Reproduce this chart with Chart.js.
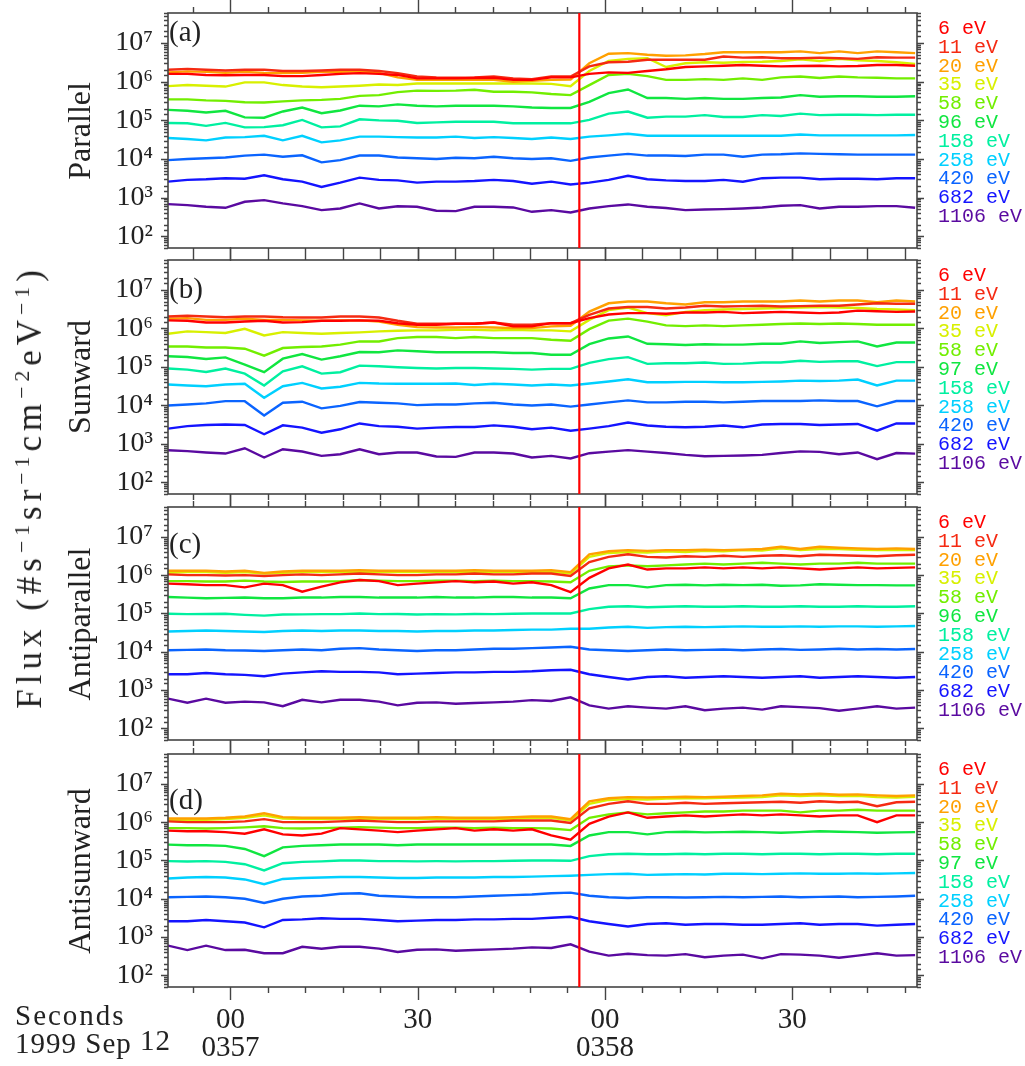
<!DOCTYPE html>
<html>
<head>
<meta charset="utf-8">
<title>Electron flux, 1999 Sep 12</title>
<script src="https://cdn.jsdelivr.net/npm/chart.js@4.4.1/dist/chart.umd.min.js"></script>
<style>
  html, body { margin: 0; padding: 0; background: #fff; }
  body { position: relative; width: 1025px; height: 1066px; overflow: hidden;
         font-family: "Liberation Serif", serif; color: #222; }
  .box { position: absolute; left: 0; width: 1025px; }
  .txt { position: absolute; white-space: nowrap; }
  .ytitle { position: absolute; white-space: nowrap; font-size: 32px;
            transform: translate(-50%, -50%) rotate(-90deg); }
  .tag { position: absolute; left: 169px; font-size: 29px; transform: translateY(-50%); }
  .legend { position: absolute; left: 938px; font-family: "Liberation Mono", monospace;
            font-size: 20px; line-height: 18.8px; white-space: pre; }
  sup { font-size: 0.62em; vertical-align: 0.55em; line-height: 0; }
</style>
</head>
<body>
<div class="box" id="boxA" style="top:0px;height:262px"><canvas id="chartA"></canvas></div>
<div class="box" id="boxB" style="top:246px;height:262px"><canvas id="chartB"></canvas></div>
<div class="box" id="boxC" style="top:493px;height:261px"><canvas id="chartC"></canvas></div>
<div class="box" id="boxD" style="top:740px;height:326px"><canvas id="chartD"></canvas></div>

<div class="ytitle" style="left:30px;top:487px;font-size:35px;letter-spacing:5px">Flux (#s<sup>&minus;1</sup>sr<sup>&minus;1</sup>cm<sup>&minus;2</sup>eV<sup>&minus;1</sup>)</div>
<div class="txt" style="left:15px;top:999px;font-size:29px;letter-spacing:2px">Seconds</div>
<div class="txt" style="left:15px;top:1027px;font-size:29px;letter-spacing:1px">1999 Sep <span style="position:relative;top:-3px">12</span></div>
<div id="overlay"></div>

<script>
// seconds after 03:57:00 UT, one sample per spin
const times = [-10.0, -6.9, -3.9, -0.8, 2.3, 5.4, 8.4, 11.5, 14.6, 17.6,
  20.7, 23.8, 26.8, 29.9, 33.0, 36.1, 39.1, 42.2, 45.3, 48.3,
  51.4, 54.5, 57.5, 60.6, 63.7, 66.8, 69.8, 72.9, 76.0, 79.0,
  82.1, 85.2, 88.2, 91.3, 94.4, 97.5, 100.5, 103.6, 106.7, 109.7];

const eventTime = 55.9; // red line

const energyParallel = ['6 eV', '11 eV', '20 eV', '35 eV', '58 eV', '96 eV', '158 eV', '258 eV', '420 eV', '682 eV', '1106 eV'];
const energySunward = ['6 eV', '11 eV', '20 eV', '35 eV', '58 eV', '97 eV', '158 eV', '258 eV', '420 eV', '682 eV', '1106 eV'];
const seriesColors = ['#ff0000', '#f52a12', '#ffa000', '#d8f000', '#72ee00', '#10e640',
  '#00f0a0', '#00d0ff', '#0a64ff', '#1414ff', '#5a0aa0'];

const xTickValues = [0, 30, 60, 90];
const xTickLabels = [['00', '0357'], '30', ['00', '0358'], '30'];
const panelTitles = ['Parallel', 'Sunward', 'Antiparallel', 'Antisunward'];
const panelTags = ['(a)', '(b)', '(c)', '(d)'];

// flux rows: 6, 11, 20, 35, 58, 96/97, 158, 258, 420, 682, 1106 eV
const parallelFlux = [
  [1.6e6,1.6e6,1.5e6,1.47e6,1.5e6,1.5e6,1.4e6,1.4e6,1.5e6,1.6e6,1.67e6,1.6e6,1.5e6,1.22e6,1.22e6,1.22e6,1.25e6,1.27e6,1.12e6,1.12e6,1.3e6,1.3e6,
   1.6e6,1.75e6,1.7e6,1.9e6,2.1e6,2.4e6,2.5e6,2.6e6,2.7e6,2.6e6,2.5e6,2.55e6,2.6e6,2.5e6,2.55e6,2.7e6,2.7e6,2.6e6],
  [2.04e6,2.15e6,2.04e6,1.96e6,2.04e6,2.04e6,1.9e6,1.9e6,1.96e6,2.04e6,2.04e6,1.9e6,1.67e6,1.37e6,1.3e6,1.27e6,1.3e6,1.37e6,1.22e6,1.17e6,1.37e6,1.37e6,
   2.5e6,3.2e6,3.3e6,3.7e6,3.7e6,3.7e6,3.7e6,4.5e6,4.2e6,4.3e6,4.05e6,4.05e6,4.2e6,4.05e6,3.9e6,4.3e6,4.2e6,4.2e6],
  [1.75e6,1.85e6,1.8e6,1.7e6,1.8e6,1.7e6,1.67e6,1.7e6,1.8e6,1.8e6,1.85e6,1.7e6,1.3e6,1.12e6,1.12e6,1.12e6,1.12e6,1.12e6,1.0e6,1.05e6,1.12e6,1.14e6,
   3.0e6,5.3e6,5.5e6,5.0e6,4.7e6,4.8e6,5.2e6,5.8e6,5.8e6,5.8e6,5.8e6,6.1e6,5.5e6,6.1e6,5.5e6,6.1e6,5.8e6,5.5e6],
  [7.7e5,8.2e5,7.9e5,7.5e5,9.6e5,9.6e5,8.2e5,7.5e5,7.2e5,7.5e5,7.9e5,8.5e5,8.2e5,9.0e5,9.0e5,9.0e5,9.0e5,9.0e5,9.0e5,9.0e5,8.8e5,7.7e5,
   1.9e6,3.45e6,3.9e6,4.05e6,2.4e6,3.0e6,3.2e6,3.1e6,3.25e6,3.3e6,3.45e6,3.8e6,3.45e6,3.9e6,3.6e6,3.45e6,3.2e6,2.9e6],
  [3.5e5,3.5e5,3.3e5,3.2e5,2.95e5,2.9e5,3.1e5,3.3e5,3.4e5,3.6e5,4.3e5,4.5e5,5.4e5,5.9e5,5.8e5,5.9e5,6.2e5,5.5e5,5.5e5,5.3e5,4.8e5,4.5e5,
   8.2e5,1.5e6,1.6e6,1.4e6,1.12e6,1.12e6,1.17e6,1.12e6,1.22e6,1.12e6,1.3e6,1.37e6,1.25e6,1.37e6,1.3e6,1.27e6,1.22e6,1.22e6],
  [1.87e5,1.77e5,1.6e5,1.77e5,1.2e5,1.17e5,1.7e5,2.15e5,1.53e5,1.8e5,2.4e5,2.3e5,2.6e5,2.4e5,2.3e5,2.4e5,2.4e5,2.4e5,2.3e5,2.15e5,2.1e5,2.1e5,
   3.0e5,5.1e5,6.3e5,3.8e5,3.8e5,3.6e5,3.8e5,3.6e5,3.6e5,3.8e5,3.9e5,4.5e5,4.1e5,4.2e5,4.2e5,4.1e5,4.1e5,4.2e5],
  [8.6e4,8.4e4,7.2e4,8.6e4,6.6e4,6.7e4,7.5e4,1.03e5,6.6e4,7.0e4,1.07e5,1.0e5,9.8e4,8.6e4,8.9e4,9.2e4,9.2e4,9.2e4,8.4e4,8.4e4,8.4e4,8.4e4,
   1.03e5,1.5e5,1.7e5,1.17e5,1.25e5,1.25e5,1.37e5,1.22e5,1.22e5,1.37e5,1.3e5,1.5e5,1.37e5,1.4e5,1.4e5,1.37e5,1.4e5,1.4e5],
  [3.5e4,3.3e4,3.05e4,3.6e4,3.7e4,4.0e4,3.05e4,4.0e4,2.7e4,3.05e4,3.8e4,3.8e4,3.7e4,3.6e4,3.6e4,3.8e4,3.5e4,3.7e4,3.5e4,3.3e4,3.6e4,3.3e4,
   3.8e4,4.1e4,4.5e4,4.0e4,4.0e4,4.0e4,4.0e4,4.0e4,4.0e4,4.0e4,4.0e4,4.3e4,4.1e4,4.1e4,4.1e4,4.1e4,4.1e4,4.2e4],
  [9.4e3,1.0e4,1.05e4,1.1e4,1.23e4,1.3e4,1.15e4,1.25e4,8.2e3,9.4e3,1.23e4,1.23e4,1.1e4,1.05e4,1.0e4,1.08e4,1.05e4,1.15e4,1.05e4,1.0e4,1.05e4,9.0e3,
   1.1e4,1.23e4,1.36e4,1.23e4,1.23e4,1.2e4,1.3e4,1.3e4,1.15e4,1.3e4,1.33e4,1.4e4,1.36e4,1.33e4,1.3e4,1.3e4,1.3e4,1.3e4],
  [2.6e3,2.9e3,3.0e3,3.2e3,3.1e3,3.8e3,3.0e3,2.6e3,1.9e3,2.45e3,3.3e3,2.9e3,2.8e3,2.45e3,2.6e3,2.6e3,2.7e3,2.9e3,2.7e3,2.3e3,2.6e3,2.2e3,
   2.45e3,2.9e3,3.7e3,3.0e3,2.8e3,2.7e3,2.7e3,2.9e3,2.6e3,3.2e3,3.3e3,3.3e3,3.0e3,3.1e3,3.1e3,3.0e3,3.2e3,3.2e3],
  [682,643,582,548,785,867,711,606,477,527,711,527,600,582,459,450,582,582,560,432,477,415,
   527,606,670,582,540,477,497,507,527,560,618,643,527,582,582,606,606,548]
];

const sunwardFlux = [
  [1.62e6,1.58e6,1.43e6,1.43e6,1.52e6,1.58e6,1.43e6,1.46e6,1.58e6,1.58e6,1.62e6,1.58e6,1.37e6,1.25e6,1.25e6,1.32e6,1.32e6,1.43e6,1.13e6,1.13e6,1.37e6,1.37e6,
   1.85e6,2.3e6,2.5e6,2.5e6,2.4e6,2.6e6,2.6e6,2.7e6,2.5e6,2.6e6,2.7e6,2.6e6,2.5e6,2.6e6,2.9e6,2.8e6,2.7e6,2.75e6],
  [2.04e6,2.13e6,2.04e6,1.96e6,2.04e6,2.04e6,1.96e6,1.93e6,1.93e6,2.04e6,2.04e6,1.93e6,1.58e6,1.32e6,1.32e6,1.32e6,1.32e6,1.43e6,1.25e6,1.25e6,1.37e6,1.37e6,
   2.26e6,3.3e6,3.6e6,3.6e6,3.3e6,3.5e6,3.9e6,3.7e6,3.8e6,3.9e6,3.7e6,3.8e6,3.9e6,3.9e6,4.2e6,4.5e6,4.4e6,4.4e6],
  [1.78e6,1.85e6,1.67e6,1.67e6,1.78e6,1.67e6,1.67e6,1.62e6,1.58e6,1.62e6,1.62e6,1.52e6,1.25e6,1.08e6,1.06e6,1.06e6,1.08e6,1.06e6,1.02e6,1.02e6,1.13e6,1.17e6,
   2.75e6,4.5e6,5.0e6,5.0e6,4.5e6,4.2e6,4.8e6,4.8e6,5.0e6,5.0e6,5.0e6,5.3e6,5.0e6,5.3e6,5.3e6,4.8e6,5.3e6,5.0e6],
  [7.3e5,8.4e5,8.0e5,7.6e5,9.8e5,6.6e5,8.0e5,7.6e5,7.3e5,7.6e5,7.9e5,8.4e5,8.7e5,8.9e5,8.9e5,9.2e5,9.2e5,8.9e5,9.2e5,8.9e5,8.9e5,8.4e5,
   1.67e6,3.0e6,3.5e6,2.5e6,2.2e6,2.7e6,3.0e6,3.1e6,3.2e6,3.3e6,3.4e6,3.5e6,3.6e6,3.5e6,3.4e6,3.2e6,3.1e6,3.0e6],
  [3.4e5,3.4e5,3.2e5,3.2e5,2.98e5,1.96e5,3.1e5,3.3e5,3.4e5,3.8e5,4.6e5,4.6e5,5.6e5,6.0e5,6.0e5,5.6e5,6.0e5,5.6e5,5.6e5,5.6e5,5.1e5,4.8e5,
   9.6e5,1.6e6,1.8e6,1.5e6,1.2e6,1.15e6,1.2e6,1.15e6,1.2e6,1.25e6,1.3e6,1.35e6,1.3e6,1.35e6,1.3e6,1.25e6,1.25e6,1.25e6],
  [1.89e5,1.81e5,1.61e5,1.77e5,1.15e5,7.3e4,1.64e5,2.17e5,1.55e5,1.89e5,2.44e5,2.4e5,2.7e5,2.56e5,2.4e5,2.4e5,2.4e5,2.4e5,2.3e5,2.3e5,2.08e5,2.08e5,
   3.9e5,5.5e5,6.2e5,4.0e5,3.9e5,3.7e5,3.9e5,3.8e5,3.8e5,4.0e5,4.0e5,4.6e5,4.2e5,4.4e5,4.6e5,3.4e5,4.3e5,4.3e5],
  [9.1e4,8.5e4,7.4e4,9.1e4,6.7e4,3.3e4,7.7e4,1.04e5,6.7e4,7.3e4,1.08e5,1.04e5,9.8e4,9.4e4,9.1e4,9.4e4,9.4e4,9.1e4,8.9e4,8.5e4,8.9e4,8.9e4,
   1.27e5,1.6e5,1.8e5,1.2e5,1.25e5,1.25e5,1.3e5,1.2e5,1.22e5,1.3e5,1.3e5,1.45e5,1.35e5,1.4e5,1.4e5,1.05e5,1.33e5,1.33e5],
  [3.5e4,3.3e4,3.16e4,3.5e4,3.65e4,1.58e4,3.16e4,3.85e4,2.75e4,3.05e4,3.85e4,3.7e4,3.65e4,3.65e4,3.65e4,3.7e4,3.4e4,3.65e4,3.5e4,3.3e4,3.5e4,3.3e4,
   3.7e4,4.2e4,4.8e4,4.0e4,4.0e4,4.1e4,4.1e4,4.0e4,4.0e4,4.1e4,4.2e4,4.4e4,4.3e4,4.4e4,4.7e4,3.3e4,4.4e4,4.4e4],
  [1.0e4,1.06e4,1.13e4,1.29e4,1.29e4,5.5e3,1.17e4,1.25e4,8.4e3,9.7e3,1.23e4,1.17e4,1.13e4,1.02e4,1.06e4,1.06e4,1.13e4,1.17e4,1.06e4,1.0e4,1.06e4,9.3e3,
   1.06e4,1.2e4,1.35e4,1.2e4,1.2e4,1.25e4,1.25e4,1.2e4,1.25e4,1.3e4,1.3e4,1.3e4,1.35e4,1.3e4,1.3e4,9.5e3,1.3e4,1.3e4],
  [2.5e3,2.9e3,3.1e3,3.2e3,3.1e3,1.78e3,3.04e3,2.65e3,1.96e3,2.4e3,3.4e3,2.9e3,2.8e3,2.5e3,2.65e3,2.75e3,2.75e3,3.04e3,2.8e3,2.4e3,2.65e3,2.2e3,
   2.5e3,2.9e3,3.6e3,3.0e3,2.8e3,2.7e3,2.8e3,3.0e3,2.7e3,3.2e3,3.3e3,3.3e3,3.1e3,3.2e3,3.3e3,2.2e3,3.4e3,3.4e3],
  [686,650,600,562,773,443,728,634,490,540,728,540,597,597,470,461,597,597,562,443,490,418,
   574,630,690,630,580,520,480,490,500,520,580,640,620,540,600,400,580,560]
];

const antiparallelFlux = [
  [6.0e5,5.8e5,5.5e5,5.5e5,4.8e5,6.0e5,5.5e5,3.7e5,5.0e5,6.5e5,7.5e5,7.0e5,5.5e5,6.0e5,6.5e5,7.0e5,6.5e5,6.8e5,6.0e5,6.5e5,5.5e5,3.6e5,
   8.5e5,1.5e6,1.9e6,1.4e6,1.5e6,1.5e6,1.6e6,1.5e6,1.6e6,1.5e6,1.6e6,1.5e6,1.4e6,1.5e6,1.6e6,1.5e6,1.55e6,1.6e6],
  [1.05e6,1.0e6,1.0e6,9.8e5,1.0e6,9.5e5,1.0e6,1.05e6,1.0e6,1.05e6,1.1e6,1.05e6,1.0e6,1.0e6,1.05e6,1.05e6,1.1e6,1.05e6,1.05e6,1.1e6,1.1e6,9.5e5,
   2.2e6,3.0e6,3.5e6,3.0e6,2.9e6,3.1e6,3.0e6,3.2e6,3.0e6,3.2e6,3.3e6,3.1e6,3.4e6,3.3e6,3.2e6,3.1e6,3.3e6,3.4e6],
  [1.3e6,1.3e6,1.3e6,1.25e6,1.3e6,1.15e6,1.25e6,1.3e6,1.3e6,1.3e6,1.35e6,1.3e6,1.3e6,1.3e6,1.3e6,1.3e6,1.35e6,1.3e6,1.3e6,1.3e6,1.35e6,1.2e6,
   3.5e6,4.2e6,4.5e6,4.3e6,4.5e6,4.5e6,4.6e6,4.5e6,4.6e6,4.8e6,5.5e6,4.8e6,5.5e6,5.2e6,5.0e6,4.8e6,5.0e6,4.8e6],
  [1.15e6,1.2e6,1.2e6,1.15e6,1.2e6,1.1e6,1.15e6,1.2e6,1.2e6,1.2e6,1.25e6,1.2e6,1.2e6,1.2e6,1.2e6,1.2e6,1.25e6,1.2e6,1.2e6,1.2e6,1.25e6,1.1e6,
   3.0e6,3.8e6,4.0e6,3.9e6,4.2e6,4.0e6,4.3e6,4.2e6,4.5e6,4.4e6,5.0e6,4.5e6,4.8e6,4.8e6,4.6e6,4.5e6,4.6e6,4.5e6],
  [7.0e5,7.0e5,6.8e5,6.8e5,7.2e5,6.8e5,6.6e5,6.8e5,6.8e5,7.0e5,7.5e5,7.2e5,7.0e5,7.0e5,7.2e5,7.2e5,7.0e5,7.2e5,7.0e5,7.0e5,6.8e5,6.5e5,
   1.3e6,1.7e6,1.8e6,1.7e6,1.8e6,1.9e6,2.0e6,1.9e6,2.0e6,2.1e6,2.0e6,1.9e6,2.0e6,2.0e6,2.1e6,2.0e6,2.0e6,2.0e6],
  [2.7e5,2.6e5,2.5e5,2.55e5,2.6e5,2.5e5,2.5e5,2.6e5,2.6e5,2.7e5,2.7e5,2.6e5,2.6e5,2.6e5,2.7e5,2.6e5,2.6e5,2.7e5,2.7e5,2.6e5,2.6e5,2.5e5,
   4.5e5,5.5e5,5.5e5,4.8e5,5.5e5,5.6e5,5.4e5,5.6e5,5.5e5,5.6e5,5.3e5,5.4e5,5.8e5,5.6e5,5.5e5,5.5e5,5.4e5,5.4e5],
  [9.8e4,9.6e4,9.7e4,9.8e4,9.2e4,8.8e4,9.4e4,9.5e4,9.6e4,9.6e4,1.0e5,9.6e4,9.7e4,9.4e4,9.6e4,9.5e4,9.7e4,9.6e4,9.8e4,1.0e5,1.0e5,1.0e5,
   1.3e5,1.5e5,1.55e5,1.45e5,1.5e5,1.55e5,1.5e5,1.5e5,1.55e5,1.5e5,1.5e5,1.55e5,1.5e5,1.5e5,1.55e5,1.5e5,1.5e5,1.55e5],
  [3.4e4,3.5e4,3.6e4,3.5e4,3.4e4,3.3e4,3.5e4,3.6e4,3.5e4,3.6e4,3.6e4,3.5e4,3.5e4,3.4e4,3.5e4,3.5e4,3.6e4,3.6e4,3.7e4,3.8e4,3.8e4,4.0e4,
   4.0e4,4.3e4,4.5e4,4.2e4,4.4e4,4.5e4,4.4e4,4.5e4,4.6e4,4.5e4,4.5e4,4.6e4,4.5e4,4.6e4,4.6e4,4.5e4,4.6e4,4.7e4],
  [1.1e4,1.12e4,1.15e4,1.1e4,1.08e4,1.05e4,1.1e4,1.15e4,1.1e4,1.2e4,1.25e4,1.15e4,1.1e4,1.05e4,1.1e4,1.1e4,1.15e4,1.2e4,1.2e4,1.25e4,1.3e4,1.35e4,
   1.15e4,1.1e4,1.05e4,1.1e4,1.15e4,1.1e4,1.12e4,1.15e4,1.1e4,1.15e4,1.18e4,1.12e4,1.15e4,1.2e4,1.15e4,1.18e4,1.15e4,1.18e4],
  [2.6e3,2.6e3,2.8e3,2.6e3,2.5e3,2.3e3,2.7e3,2.9e3,3.1e3,3.0e3,3.0e3,2.9e3,2.6e3,2.7e3,2.8e3,2.9e3,2.9e3,3.0e3,3.0e3,3.1e3,3.3e3,3.4e3,
   2.6e3,2.2e3,1.9e3,2.2e3,2.3e3,2.1e3,2.2e3,2.3e3,2.2e3,2.1e3,2.2e3,2.3e3,2.1e3,2.2e3,2.3e3,2.2e3,2.1e3,2.2e3],
  [600,470,600,470,500,480,380,560,480,560,560,500,400,470,480,440,460,480,500,550,520,650,
   400,330,380,350,330,380,300,330,350,310,380,360,340,290,330,380,330,350]
];

const antisunwardFlux = [
  [6.0e5,5.8e5,5.8e5,5.5e5,5.0e5,6.5e5,4.8e5,4.5e5,5.0e5,7.0e5,6.5e5,6.0e5,5.5e5,6.0e5,6.5e5,7.0e5,6.0e5,6.5e5,6.0e5,6.5e5,4.5e5,3.5e5,
   9.0e5,1.4e6,1.8e6,1.3e6,1.4e6,1.5e6,1.4e6,1.5e6,1.6e6,1.5e6,1.6e6,1.5e6,1.4e6,1.5e6,1.5e6,1.0e6,1.5e6,1.5e6],
  [1.05e6,1.0e6,1.0e6,1.0e6,1.05e6,1.2e6,1.0e6,1.0e6,1.0e6,1.05e6,1.1e6,1.05e6,1.0e6,1.0e6,1.05e6,1.05e6,1.05e6,1.05e6,1.1e6,1.1e6,1.1e6,9.5e5,
   2.3e6,3.0e6,3.5e6,3.0e6,3.0e6,3.2e6,3.0e6,3.1e6,3.2e6,3.3e6,3.4e6,3.2e6,3.5e6,3.3e6,3.4e6,2.6e6,3.3e6,3.4e6],
  [1.25e6,1.25e6,1.25e6,1.3e6,1.4e6,1.7e6,1.35e6,1.3e6,1.3e6,1.3e6,1.35e6,1.3e6,1.3e6,1.3e6,1.35e6,1.3e6,1.3e6,1.3e6,1.35e6,1.4e6,1.4e6,1.2e6,
   3.5e6,4.2e6,4.5e6,4.4e6,4.5e6,4.6e6,4.5e6,4.6e6,4.8e6,5.0e6,5.5e6,5.3e6,5.5e6,5.2e6,5.3e6,5.0e6,4.8e6,5.0e6],
  [1.15e6,1.15e6,1.15e6,1.2e6,1.3e6,1.5e6,1.25e6,1.2e6,1.2e6,1.2e6,1.25e6,1.2e6,1.2e6,1.2e6,1.25e6,1.2e6,1.2e6,1.2e6,1.25e6,1.3e6,1.3e6,1.1e6,
   3.0e6,3.8e6,4.0e6,3.9e6,4.1e6,4.2e6,4.2e6,4.3e6,4.4e6,4.5e6,5.0e6,4.8e6,5.0e6,4.8e6,4.9e6,4.5e6,4.4e6,4.6e6],
  [7.0e5,7.0e5,6.8e5,7.0e5,7.3e5,7.8e5,7.0e5,6.8e5,7.0e5,7.2e5,7.4e5,7.2e5,7.0e5,7.0e5,7.2e5,7.2e5,7.0e5,7.2e5,7.0e5,7.0e5,6.8e5,6.2e5,
   1.3e6,1.6e6,1.8e6,1.6e6,1.7e6,1.8e6,1.9e6,1.9e6,2.0e6,2.0e6,2.0e6,1.8e6,2.0e6,2.0e6,2.1e6,2.0e6,2.0e6,2.0e6],
  [2.6e5,2.5e5,2.5e5,2.4e5,2.0e5,1.3e5,2.2e5,2.4e5,2.5e5,2.6e5,2.6e5,2.6e5,2.5e5,2.6e5,2.6e5,2.6e5,2.6e5,2.6e5,2.6e5,2.6e5,2.6e5,2.4e5,
   4.5e5,5.5e5,5.5e5,4.8e5,5.5e5,5.6e5,5.4e5,5.5e5,5.6e5,5.5e5,5.3e5,5.5e5,5.8e5,5.6e5,5.5e5,5.3e5,5.4e5,5.5e5],
  [9.6e4,9.4e4,9.6e4,9.2e4,8.0e4,5.5e4,8.5e4,9.2e4,9.5e4,1.0e5,1.0e5,9.6e4,9.6e4,9.5e4,9.6e4,9.5e4,9.6e4,9.6e4,9.8e4,1.0e5,1.0e5,9.8e4,
   1.3e5,1.45e5,1.5e5,1.45e5,1.45e5,1.5e5,1.45e5,1.5e5,1.5e5,1.45e5,1.5e5,1.5e5,1.45e5,1.5e5,1.5e5,1.45e5,1.5e5,1.5e5],
  [3.4e4,3.6e4,3.7e4,3.6e4,3.2e4,2.4e4,3.3e4,3.5e4,3.6e4,3.7e4,3.7e4,3.6e4,3.5e4,3.5e4,3.6e4,3.6e4,3.6e4,3.7e4,3.7e4,3.8e4,3.9e4,4.0e4,
   4.2e4,4.4e4,4.5e4,4.2e4,4.3e4,4.4e4,4.3e4,4.5e4,4.5e4,4.4e4,4.5e4,4.6e4,4.5e4,4.5e4,4.6e4,4.5e4,4.6e4,4.7e4],
  [1.1e4,1.12e4,1.15e4,1.1e4,1.0e4,7.8e3,1.0e4,1.15e4,1.2e4,1.35e4,1.4e4,1.2e4,1.15e4,1.1e4,1.1e4,1.1e4,1.15e4,1.2e4,1.25e4,1.3e4,1.4e4,1.45e4,
   1.2e4,1.1e4,1.05e4,1.1e4,1.1e4,1.08e4,1.1e4,1.12e4,1.1e4,1.12e4,1.15e4,1.1e4,1.12e4,1.15e4,1.1e4,1.12e4,1.15e4,1.2e4],
  [2.6e3,2.6e3,2.8e3,2.6e3,2.4e3,1.8e3,2.8e3,2.9e3,3.1e3,3.0e3,3.0e3,2.8e3,2.6e3,2.7e3,2.8e3,2.8e3,2.9e3,2.9e3,3.0e3,3.0e3,3.2e3,3.4e3,
   2.6e3,2.2e3,1.9e3,2.2e3,2.3e3,2.1e3,2.2e3,2.2e3,2.1e3,2.1e3,2.2e3,2.3e3,2.1e3,2.2e3,2.2e3,2.0e3,2.1e3,2.2e3],
  [600,460,600,460,470,380,380,560,500,560,560,500,410,470,480,440,460,480,500,540,520,650,
   420,330,370,340,330,360,300,330,350,280,360,350,330,290,330,380,330,340]
];

const SUP = '⁰¹²³⁴⁵⁶⁷⁸⁹';
function powLabel(v) {
  const e = Math.round(Math.log10(v));
  if (Math.abs(v - Math.pow(10, e)) / v > 1e-6) return '';
  return '10' + String(e).split('').map(d => SUP[+d]).join('');
}
function isPow10(v) { return powLabel(v) !== ''; }

// frame, outward ticks and the event line
const framePlugin = {
  id: 'frame',
  afterDraw(chart) {
    const { ctx, chartArea: a } = chart;
    const x = chart.scales.x, y = chart.scales.y;
    ctx.save();
    ctx.strokeStyle = '#444';
    ctx.lineWidth = 1.4;
    ctx.beginPath();
    for (let t = -6; t <= 108; t += 6) {
      const px = Math.round(x.getPixelForValue(t)) + 0.5;
      const len = t % 30 === 0 ? 13 : 6;
      ctx.moveTo(px, a.top); ctx.lineTo(px, a.top - len);
      ctx.moveTo(px, a.bottom); ctx.lineTo(px, a.bottom + len);
    }
    y.ticks.forEach(tk => {
      const py = Math.round(y.getPixelForValue(tk.value)) + 0.5;
      const len = isPow10(tk.value) ? 7 : 4;
      ctx.moveTo(a.left, py); ctx.lineTo(a.left - len, py);
      ctx.moveTo(a.right, py); ctx.lineTo(a.right + len, py);
    });
    ctx.stroke();
    ctx.lineWidth = 1.6;
    ctx.strokeRect(a.left, a.top, a.right - a.left, a.bottom - a.top);
    const ex = x.getPixelForValue(eventTime);
    ctx.strokeStyle = '#ff0000';
    ctx.lineWidth = 2.2;
    ctx.beginPath();
    ctx.moveTo(ex, a.top); ctx.lineTo(ex, a.bottom);
    ctx.stroke();
    ctx.restore();
  }
};

const panels = [
  { canvas: 'chartA', flux: parallelFlux, energies: energyParallel, areaTop: 13, padTop: 13, padBottom: 14, tagY: 31 },
  { canvas: 'chartB', flux: sunwardFlux, energies: energySunward, areaTop: 260, padTop: 14, padBottom: 14, tagY: 288 },
  { canvas: 'chartC', flux: antiparallelFlux, energies: energyParallel, areaTop: 507, padTop: 14, padBottom: 14, tagY: 543 },
  { canvas: 'chartD', flux: antisunwardFlux, energies: energySunward, areaTop: 754, padTop: 14, padBottom: 9, tagY: 799, bottom: true }
];
const areaHeight = [235, 234, 233, 233];

const serif = 'Liberation Serif, serif';
const overlay = document.getElementById('overlay');

panels.forEach((p, n) => {
  new Chart(document.getElementById(p.canvas), {
    type: 'line',
    data: {
      labels: times,
      datasets: p.flux.map((vals, k) => ({
        label: p.energies[k],
        data: vals,
        borderColor: seriesColors[k],
        borderWidth: 2.4,
        pointRadius: 0,
        tension: 0,
        fill: false
      }))
    },
    options: {
      responsive: true,
      maintainAspectRatio: false,
      animation: false,
      devicePixelRatio: 1,
      layout: { padding: { left: 68, right: 108, top: p.padTop, bottom: p.padBottom } },
      plugins: { legend: { display: false }, tooltip: { enabled: false } },
      scales: {
        x: {
          type: 'linear', min: -10, max: 110,
          display: !!p.bottom,
          grid: { display: false, drawTicks: false },
          border: { display: false },
          afterBuildTicks: s => { s.ticks = xTickValues.map(v => ({ value: v })); },
          afterFit: s => {
            s.height = p.bottom ? 70 : 0;
            s.paddingLeft = 0; s.paddingRight = 0;
          },
          ticks: {
            autoSkip: false, maxRotation: 0, padding: 20, color: '#222',
            font: { family: serif, size: 29, lineHeight: 0.95 },
            callback: (v, i) => xTickLabels[i]
          }
        },
        y: {
          type: 'logarithmic', min: 50, max: 6e7,
          grid: { display: false, drawTicks: false },
          border: { display: false },
          afterFit: s => { s.width = 100; s.paddingTop = 0; s.paddingBottom = 0; },
          ticks: {
            autoSkip: false, padding: 15, color: '#222',
            font: { family: serif, size: 28 },
            callback: v => powLabel(v)
          }
        }
      }
    },
    plugins: [framePlugin]
  });

  const title = document.createElement('div');
  title.className = 'ytitle';
  title.style.left = '79px';
  title.style.top = (p.areaTop + areaHeight[n] / 2) + 'px';
  title.textContent = panelTitles[n];
  overlay.appendChild(title);

  const tag = document.createElement('div');
  tag.className = 'tag';
  tag.style.top = p.tagY + 'px';
  tag.textContent = panelTags[n];
  overlay.appendChild(tag);

  const leg = document.createElement('div');
  leg.className = 'legend';
  leg.style.top = (p.areaTop + 7) + 'px';
  p.energies.forEach((e, k) => {
    const line = document.createElement('div');
    line.style.color = seriesColors[k];
    line.textContent = e;
    leg.appendChild(line);
  });
  overlay.appendChild(leg);
});
</script>
</body>
</html>
